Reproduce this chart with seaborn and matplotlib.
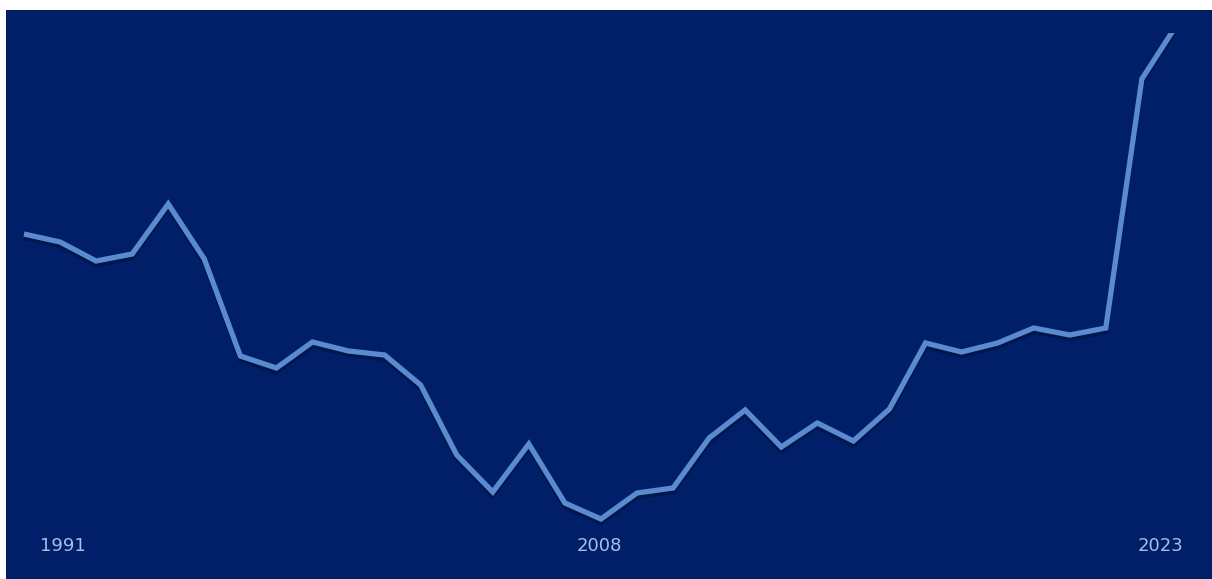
import matplotlib
matplotlib.use("Agg")
import matplotlib.pyplot as plt
import matplotlib.patheffects as pe
import seaborn as sns
import pandas as pd

# ---- data ----
years = list(range(1991, 2024))
values = [30.6, 29.8, 27.9, 28.6, 33.6, 28.1, 18.4, 17.2, 19.8, 18.9, 18.5,
          15.5, 8.5, 4.8, 9.6, 3.7, 2.1, 4.7, 5.2, 10.2, 13.0, 9.3, 11.7,
          9.9, 13.1, 19.7, 18.8, 19.7, 21.2, 20.5, 21.2, 46.1, 51.7]
tick_labels = ["1991", "2008", "2023"]

df = pd.DataFrame({"year": years, "value": values})

BG = "#001f68"
LINE = "#5b8bcf"
TEXT = "#a6bfe8"

sns.set_style("white")
plt.rcParams["font.family"] = ["DejaVu Sans"]

W, H = 1212, 579
fig = plt.figure(figsize=(W / 100, H / 100), dpi=100, facecolor="white")
# navy panel (background axes)
bg = fig.add_axes([6 / W, 0, (W - 6) / W, (H - 10) / H], zorder=0)
bg.set_facecolor(BG)
bg.set_xticks([])
bg.set_yticks([])
for s in bg.spines.values():
    s.set_visible(False)

ax = fig.add_axes([6 / W, 0, (W - 6) / W, (H - 33) / H], zorder=1)
ax.set_facecolor("none")

sns.lineplot(data=df, x="year", y="value", ax=ax, color=LINE, linewidth=3.8,
             solid_joinstyle="miter", solid_capstyle="butt")
for ln in ax.get_lines():
    ln.set_path_effects([
        pe.SimpleLineShadow(offset=(0, -2.5), shadow_color="black", alpha=0.25),
        pe.Normal(),
    ])

ax.set_xlim(1990.501, 2023.945)
ax.set_ylim(-3.9, 50.7)
ax.set_xticks([])
ax.set_yticks([])
ax.set_xlabel("")
ax.set_ylabel("")
for s in ax.spines.values():
    s.set_visible(False)

label_pos = [(40 / W, "left"), (599 / W, "center"), (1183 / W, "right")]
for lab, (xf, ha) in zip(tick_labels, label_pos):
    fig.text(xf, (H - 546) / H, lab, ha=ha, va="center",
             color=TEXT, fontsize=13, zorder=5)

fig.savefig("out.png", dpi=100, facecolor="white")
